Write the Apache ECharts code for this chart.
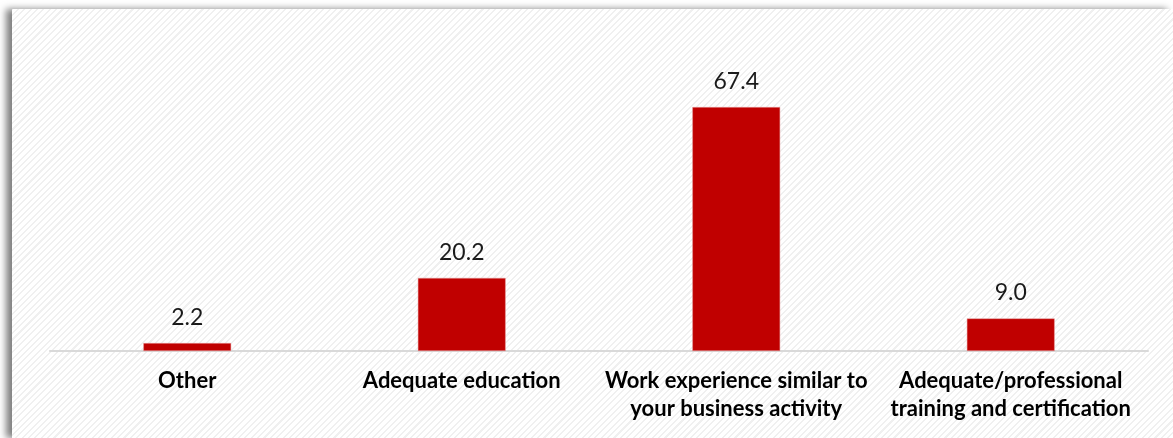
<!DOCTYPE html>
<html>
<head>
<meta charset="utf-8">
<script src="https://cdn.jsdelivr.net/npm/echarts@6/dist/echarts.min.js"></script>
<style>
  html, body { margin: 0; padding: 0; background: #ffffff; }
  #wrap { position: absolute; left: 12px; top: 9px; width: 1161px; height: 429px;
    box-shadow: -6px 0 7px rgba(0,0,0,0.5);
    background: repeating-linear-gradient(-45deg, #ffffff 0px, #ffffff 3px, #f0f0f0 3px, #f0f0f0 4.5px); }
  #chart { position: absolute; left: -12px; top: -9px; width: 1173px; height: 438px; }
</style>
</head>
<body>
<div id="wrap"><div id="chart"></div></div>
<script>
const categories = [
  'Other',
  'Adequate education',
  'Work experience similar to\nyour business activity',
  'Adequate/professional\ntraining and certification'
];
const shares = [2.2, 20.2, 67.4, 9.0];

const chart = echarts.init(document.getElementById('chart'), null, { renderer: 'canvas' });
chart.setOption({
  backgroundColor: 'transparent',
  animation: false,
  grid: { left: 50, right: 25, top: 97.6, bottom: 87 },
  xAxis: {
    type: 'category',
    data: categories,
    axisLine: { lineStyle: { color: '#d9d9d9', width: 2 } },
    axisTick: { show: false },
    axisLabel: {
      interval: 0,
      margin: 16,
      color: '#000000',
      fontFamily: 'Lato',
      fontWeight: 'bold',
      fontSize: 22,
      lineHeight: 28
    }
  },
  yAxis: {
    type: 'value',
    min: 0,
    max: 70,
    show: false,
    splitLine: { show: false }
  },
  series: [{
    type: 'bar',
    data: shares,
    barWidth: '32%',
    itemStyle: { color: '#c00000', borderColor: '#e8a0a0', borderWidth: 0.5 },
    label: {
      show: true,
      position: 'top',
      distance: 14,
      color: '#1a1a1a',
      fontFamily: 'Lato',
      fontSize: 23,
      formatter: p => p.value.toFixed(1)
    }
  }]
});
</script>
</body>
</html>
